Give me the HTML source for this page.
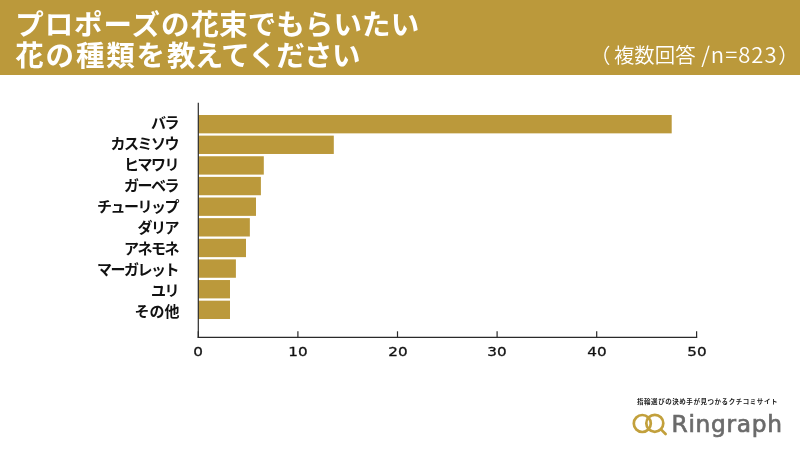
<!DOCTYPE html>
<html lang="ja">
<head>
<meta charset="utf-8">
<title>プロポーズの花束でもらいたい花の種類</title>
<style>
html,body{margin:0;padding:0;}
body{width:800px;height:450px;background:#fff;position:relative;overflow:hidden;
  font-family:"Liberation Sans","Noto Sans CJK JP",sans-serif;}
#hdr{position:absolute;left:0;top:0;width:800px;height:74.5px;background:#bb993b;}
#title{position:absolute;left:15.2px;top:9.6px;margin:0;color:#fff;font-weight:700;
  font-size:28.5px;line-height:31.2px;white-space:nowrap;letter-spacing:0.5px;}
#sub{position:absolute;left:590px;top:38.4px;color:#fff;font-weight:350;font-size:20.4px;line-height:30px;white-space:nowrap;}
#sub .lat{font-family:"Noto Sans CJK JP","Liberation Sans",sans-serif;font-weight:350;font-size:22px;letter-spacing:1px;}
#sub .po{margin-right:3.6px;}
#sub .pc{margin-left:0.8px;}
.lab{position:absolute;right:621.9px;height:18.3px;line-height:18.3px;font-size:15px;letter-spacing:-1.5px;font-weight:700;color:#111;white-space:nowrap;text-align:right;}
#chart{position:absolute;left:0;top:0;}
.tl{position:absolute;top:343.4px;width:40px;margin-left:-20px;text-align:center;font-size:13px;line-height:18px;color:#111;
  font-family:"DejaVu Sans","Liberation Sans",sans-serif;transform:scaleX(1.17);-webkit-text-stroke:0.3px #111;}
#logo{position:absolute;left:625px;top:405px;width:50px;height:40px;}
#brand{position:absolute;left:671.5px;top:408px;font-family:"DejaVu Sans","Liberation Sans",sans-serif;font-weight:400;font-size:23.3px;line-height:32px;color:#6b6b6b;letter-spacing:0.7px;white-space:nowrap;-webkit-text-stroke:0.7px #6b6b6b;}
#tag{position:absolute;left:637.3px;top:395.4px;width:300px;font-weight:700;font-size:13px;line-height:28px;height:28px;color:#222;white-space:nowrap;letter-spacing:1.1px;transform:scale(0.5);transform-origin:0 0;}
</style>
</head>
<body>
<div id="hdr">
  <h1 id="title"><span style="letter-spacing:0.95px">プロポーズの</span><span style="letter-spacing:0.1px">花束でもらいたい</span><br><span style="letter-spacing:1.85px">花の種類を</span><span style="letter-spacing:-0.62px">教えてください</span></h1>
  <div id="sub"><span class="po">（</span>複数回答 <span class="lat">/n=823</span><span class="pc">）</span></div>
</div>

<div class="lab" style="top:113.7px">バラ</div>
<div class="lab" style="top:134.8px">カスミソウ</div>
<div class="lab" style="top:155.9px">ヒマワリ</div>
<div class="lab" style="top:176.9px">ガーベラ</div>
<div class="lab" style="top:198.0px">チューリップ</div>
<div class="lab" style="top:219.1px">ダリア</div>
<div class="lab" style="top:240.2px">アネモネ</div>
<div class="lab" style="top:261.3px">マーガレット</div>
<div class="lab" style="top:282.3px">ユリ</div>
<div class="lab" style="top:303.4px;letter-spacing:0;margin-right:-1.5px">その他</div>


<svg id="chart" width="800" height="450" viewBox="0 0 800 450">
  <g fill="#bb993b">
    <rect x="198.3" y="115.00" width="473.40" height="18.35"/>
    <rect x="198.3" y="135.63" width="135.50" height="18.35"/>
    <rect x="198.3" y="156.26" width="65.50" height="18.35"/>
    <rect x="198.3" y="176.89" width="62.60" height="18.35"/>
    <rect x="198.3" y="197.52" width="57.70" height="18.35"/>
    <rect x="198.3" y="218.15" width="51.55" height="18.35"/>
    <rect x="198.3" y="238.78" width="47.70" height="18.35"/>
    <rect x="198.3" y="259.41" width="37.60" height="18.35"/>
    <rect x="198.3" y="280.04" width="31.70" height="18.35"/>
    <rect x="198.3" y="300.67" width="31.70" height="18.35"/>
  </g>
  <g stroke="#2a2a2a" stroke-width="1.2" fill="none">
    <line x1="198.3" y1="102.7" x2="198.3" y2="338"/>
    <line x1="197.7" y1="337.4" x2="697.2" y2="337.4"/>
    <line x1="198.3" y1="331.3" x2="198.3" y2="337.4"/>
    <line x1="297.9" y1="331.3" x2="297.9" y2="337.4"/>
    <line x1="397.5" y1="331.3" x2="397.5" y2="337.4"/>
    <line x1="497.1" y1="331.3" x2="497.1" y2="337.4"/>
    <line x1="596.7" y1="331.3" x2="596.7" y2="337.4"/>
    <line x1="696.6" y1="331.3" x2="696.6" y2="337.4"/>
  </g>
</svg>
<div class="tl" style="left:198.3px">0</div>
<div class="tl" style="left:297.9px">10</div>
<div class="tl" style="left:397.5px">20</div>
<div class="tl" style="left:497.1px">30</div>
<div class="tl" style="left:596.7px">40</div>
<div class="tl" style="left:696.6px">50</div>

<div id="tag">指輪選びの決め手が見つかるクチコミサイト</div>
<svg id="logo" viewBox="0 0 50 40">
  <g fill="none" stroke="#c2a03c" stroke-width="2.7" stroke-linecap="round">
    <circle cx="17.3" cy="18.5" r="8.5"/>
    <circle cx="29.8" cy="18.3" r="8.5"/>
    <line x1="36.2" y1="24.6" x2="40.6" y2="29"/>
  </g>
</svg>
<div id="brand">Ringraph</div>
</body>
</html>
